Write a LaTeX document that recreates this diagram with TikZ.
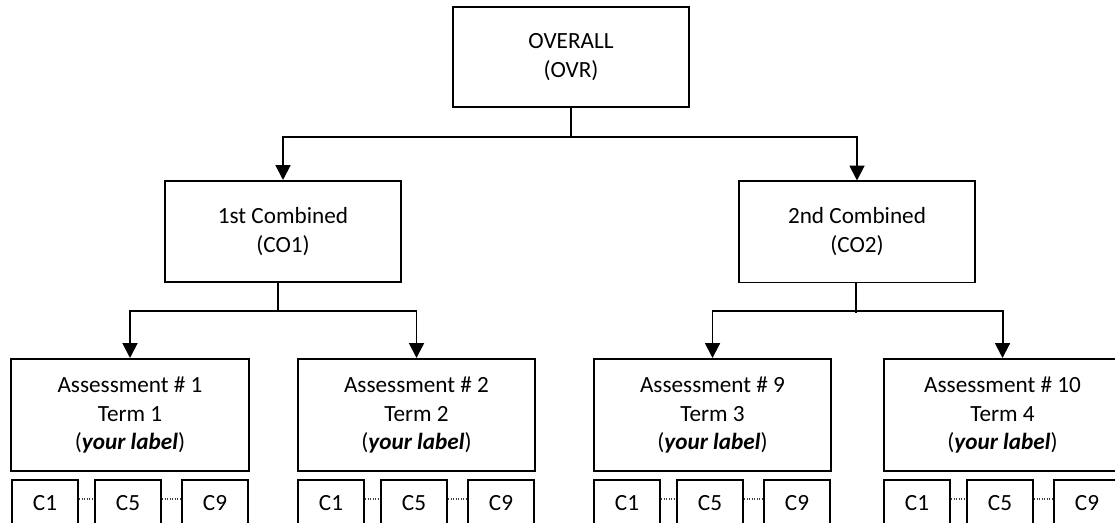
\documentclass[tikz,border=0pt]{standalone}
\usepackage{fontspec}
\setmainfont{Carlito}
\usetikzlibrary{arrows.meta}
\begin{document}
\begin{tikzpicture}
    [ x=0.025cm, y=-0.025cm, line width=1.4pt,
      >={Triangle[width=10.5pt,length=10.5pt]},
      caixa/.style={draw, line width=1.4pt, align=center, inner sep=0pt,
                    font=\fontsize{16.5}{20.6}\selectfont},
      topo/.style={caixa, minimum width=5.9cm, minimum height=2.5cm},
      comb/.style={caixa, minimum width=5.9cm, minimum height=2.525cm},
      aval/.style={caixa, minimum width=5.925cm, minimum height=2.8cm},
      crit/.style={caixa, minimum width=1.65cm, minimum height=1.15cm},
      ponto/.style={line width=0.8pt, densely dotted, black!75} ]

    \clip (0,0) rectangle (1115,523);

    \node (ovr) at (571,57) [topo] {OVERALL\\(OVR)};
    \node (co1) at (283,231.5) [comb] {1st Combined\\(CO1)};
    \node (co2) at (857,232) [comb] {2nd Combined\\(CO2)};

    \node (a1) at (130,415) [aval] {Assessment \# 1\\Term 1\\(\textbf{\textit{your label}})};
    \node (a2) at (416.5,415) [aval] {Assessment \# 2\\Term 2\\(\textbf{\textit{your label}})};
    \node (a9) at (712.5,415) [aval] {Assessment \# 9\\Term 3\\(\textbf{\textit{your label}})};
    \node (a10) at (1002.5,415) [aval] {Assessment \# 10\\Term 4\\(\textbf{\textit{your label}})};

    \coordinate (j0) at (571,137);
    \coordinate (j1) at (278,311);
    \coordinate (j2) at (856,311);

    \draw (ovr.south) -- (j0);
    \draw[->] (j0) -| (co1.north);
    \draw[->] (j0) -| (co2.north);

    \draw (co1.south -| j1) -- (j1);
    \draw[->] (j1) -| (a1.north);
    \draw[->] (j1) -| (a2.north);

    \draw (co2.south -| j2) -- ([yshift=-0.05cm]j2);
    \draw[->] (j2) -| (a9.north);
    \draw[->] (j2) -| (a10.north);

    \node (a1c1) at (45,503) [crit] {C1};
    \node (a1c5) at (128,503) [crit] {C5};
    \node (a1c9) at (215,503) [crit] {C9};
    \draw[ponto] ([yshift=0.1cm]a1c1.east) -- ([yshift=0.1cm]a1c5.west);
    \draw[ponto] ([yshift=0.1cm]a1c5.east) -- ([yshift=0.1cm]a1c9.west);

    \node (a2c1) at (331,503) [crit] {C1};
    \node (a2c5) at (414,503) [crit] {C5};
    \node (a2c9) at (501,503) [crit] {C9};
    \draw[ponto] ([yshift=0.1cm]a2c1.east) -- ([yshift=0.1cm]a2c5.west);
    \draw[ponto] ([yshift=0.1cm]a2c5.east) -- ([yshift=0.1cm]a2c9.west);

    \node (a9c1) at (627,503) [crit] {C1};
    \node (a9c5) at (710,503) [crit] {C5};
    \node (a9c9) at (797,503) [crit] {C9};
    \draw[ponto] ([yshift=0.1cm]a9c1.east) -- ([yshift=0.1cm]a9c5.west);
    \draw[ponto] ([yshift=0.1cm]a9c5.east) -- ([yshift=0.1cm]a9c9.west);

    \node (a10c1) at (917,503) [crit] {C1};
    \node (a10c5) at (1000,503) [crit] {C5};
    \node (a10c9) at (1087,503) [crit] {C9};
    \draw[ponto] ([yshift=0.1cm]a10c1.east) -- ([yshift=0.1cm]a10c5.west);
    \draw[ponto] ([yshift=0.1cm]a10c5.east) -- ([yshift=0.1cm]a10c9.west);

\end{tikzpicture}
\end{document}
